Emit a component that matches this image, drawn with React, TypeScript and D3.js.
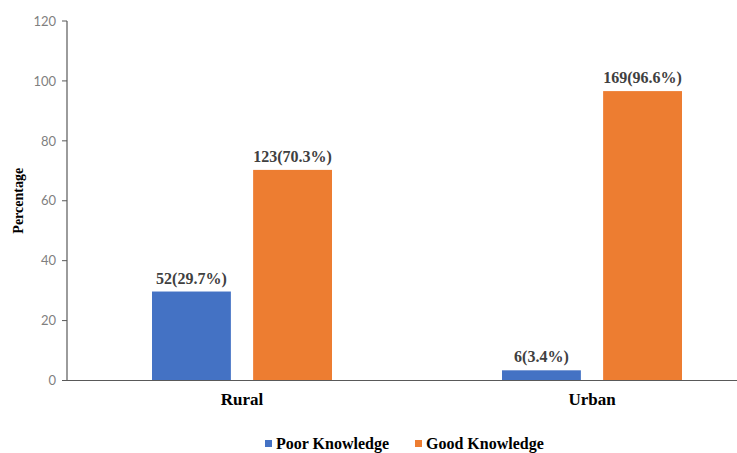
import React from "react";
import * as d3 from "d3";

const categories = ["Rural", "Urban"];
const seriesNames = ["Poor Knowledge", "Good Knowledge"];
const poorPct = [29.7, 3.4];
const goodPct = [70.3, 96.6];
const poorLabels = ["52(29.7%)", "6(3.4%)"];
const goodLabels = ["123(70.3%)", "169(96.6%)"];
const yTicks = [0, 20, 40, 60, 80, 100, 120];
const colors = ["#4472C4", "#ED7D31"];

const W = 737;
const H = 453;
const serif = "Liberation Serif, Tinos, serif";
const sans = "Lato, Carlito, Liberation Sans, sans-serif";

export default function App() {
  const y = d3.scaleLinear().domain([0, 120]).range([380.5, 21]);
  const x0 = d3.scaleBand<string>().domain(categories).range([67, 767]);
  const x1 = d3
    .scaleBand<string>()
    .domain(seriesNames)
    .range([-90, 90])
    .paddingInner(0.22);

  const values = [poorPct, goodPct];
  const labels = [poorLabels, goodLabels];

  return (
    <svg
      width={W}
      height={H}
      style={{ position: "absolute", left: 0, top: 0, background: "#fff" }}
    >
      {/* bars and value labels */}
      {categories.map((c, ci) => {
        const cx = (x0(c) ?? 0) + x0.bandwidth() / 2;
        return (
          <g key={c}>
            {seriesNames.map((s, si) => {
              const v = values[si][ci];
              const bx = cx + (x1(s) ?? 0);
              return (
                <g key={s}>
                  <rect
                    x={bx}
                    y={y(v)}
                    width={x1.bandwidth()}
                    height={y(0) - y(v)}
                    fill={colors[si]}
                  />
                  <text
                    x={bx + x1.bandwidth() / 2}
                    y={y(v) - 8}
                    textAnchor="middle"
                    style={{ fontFamily: serif, fontWeight: "bold", fontSize: 16 }}
                    fill="#404040"
                  >
                    {labels[si][ci]}
                  </text>
                </g>
              );
            })}
            <text
              x={cx}
              y={405}
              textAnchor="middle"
              style={{ fontFamily: serif, fontWeight: "bold", fontSize: 17 }}
              fill="#000"
            >
              {c}
            </text>
          </g>
        );
      })}

      {/* y axis */}
      <line x1={67} x2={67} y1={y(120)} y2={y(0)} stroke="#595959" strokeWidth={1.2} />
      {yTicks.map((t) => (
        <g key={t}>
          <line x1={62} x2={67} y1={y(t)} y2={y(t)} stroke="#595959" strokeWidth={1} />
          <text
            x={56}
            y={y(t)}
            dy="0.36em"
            textAnchor="end"
            style={{ fontFamily: sans, fontSize: 13 }}
            fill="#7f7f7f"
          >
            {t}
          </text>
        </g>
      ))}
      {/* x axis */}
      <line x1={67} x2={W} y1={y(0)} y2={y(0)} stroke="#595959" strokeWidth={1.2} />

      <text
        transform={`translate(23, ${y(60)}) rotate(-90)`}
        textAnchor="middle"
        style={{ fontFamily: serif, fontWeight: "bold", fontSize: 14 }}
        fill="#000"
      >
        Percentage
      </text>

      {/* legend */}
      {seriesNames.map((s, i) => {
        const lx = [265, 415][i];
        return (
          <g key={s}>
            <rect x={lx} y={440} width={7} height={7} fill={colors[i]} />
            <text
              x={lx + 11}
              y={449}
              style={{ fontFamily: serif, fontWeight: "bold", fontSize: 16 }}
              fill="#000"
            >
              {s}
            </text>
          </g>
        );
      })}
    </svg>
  );
}
